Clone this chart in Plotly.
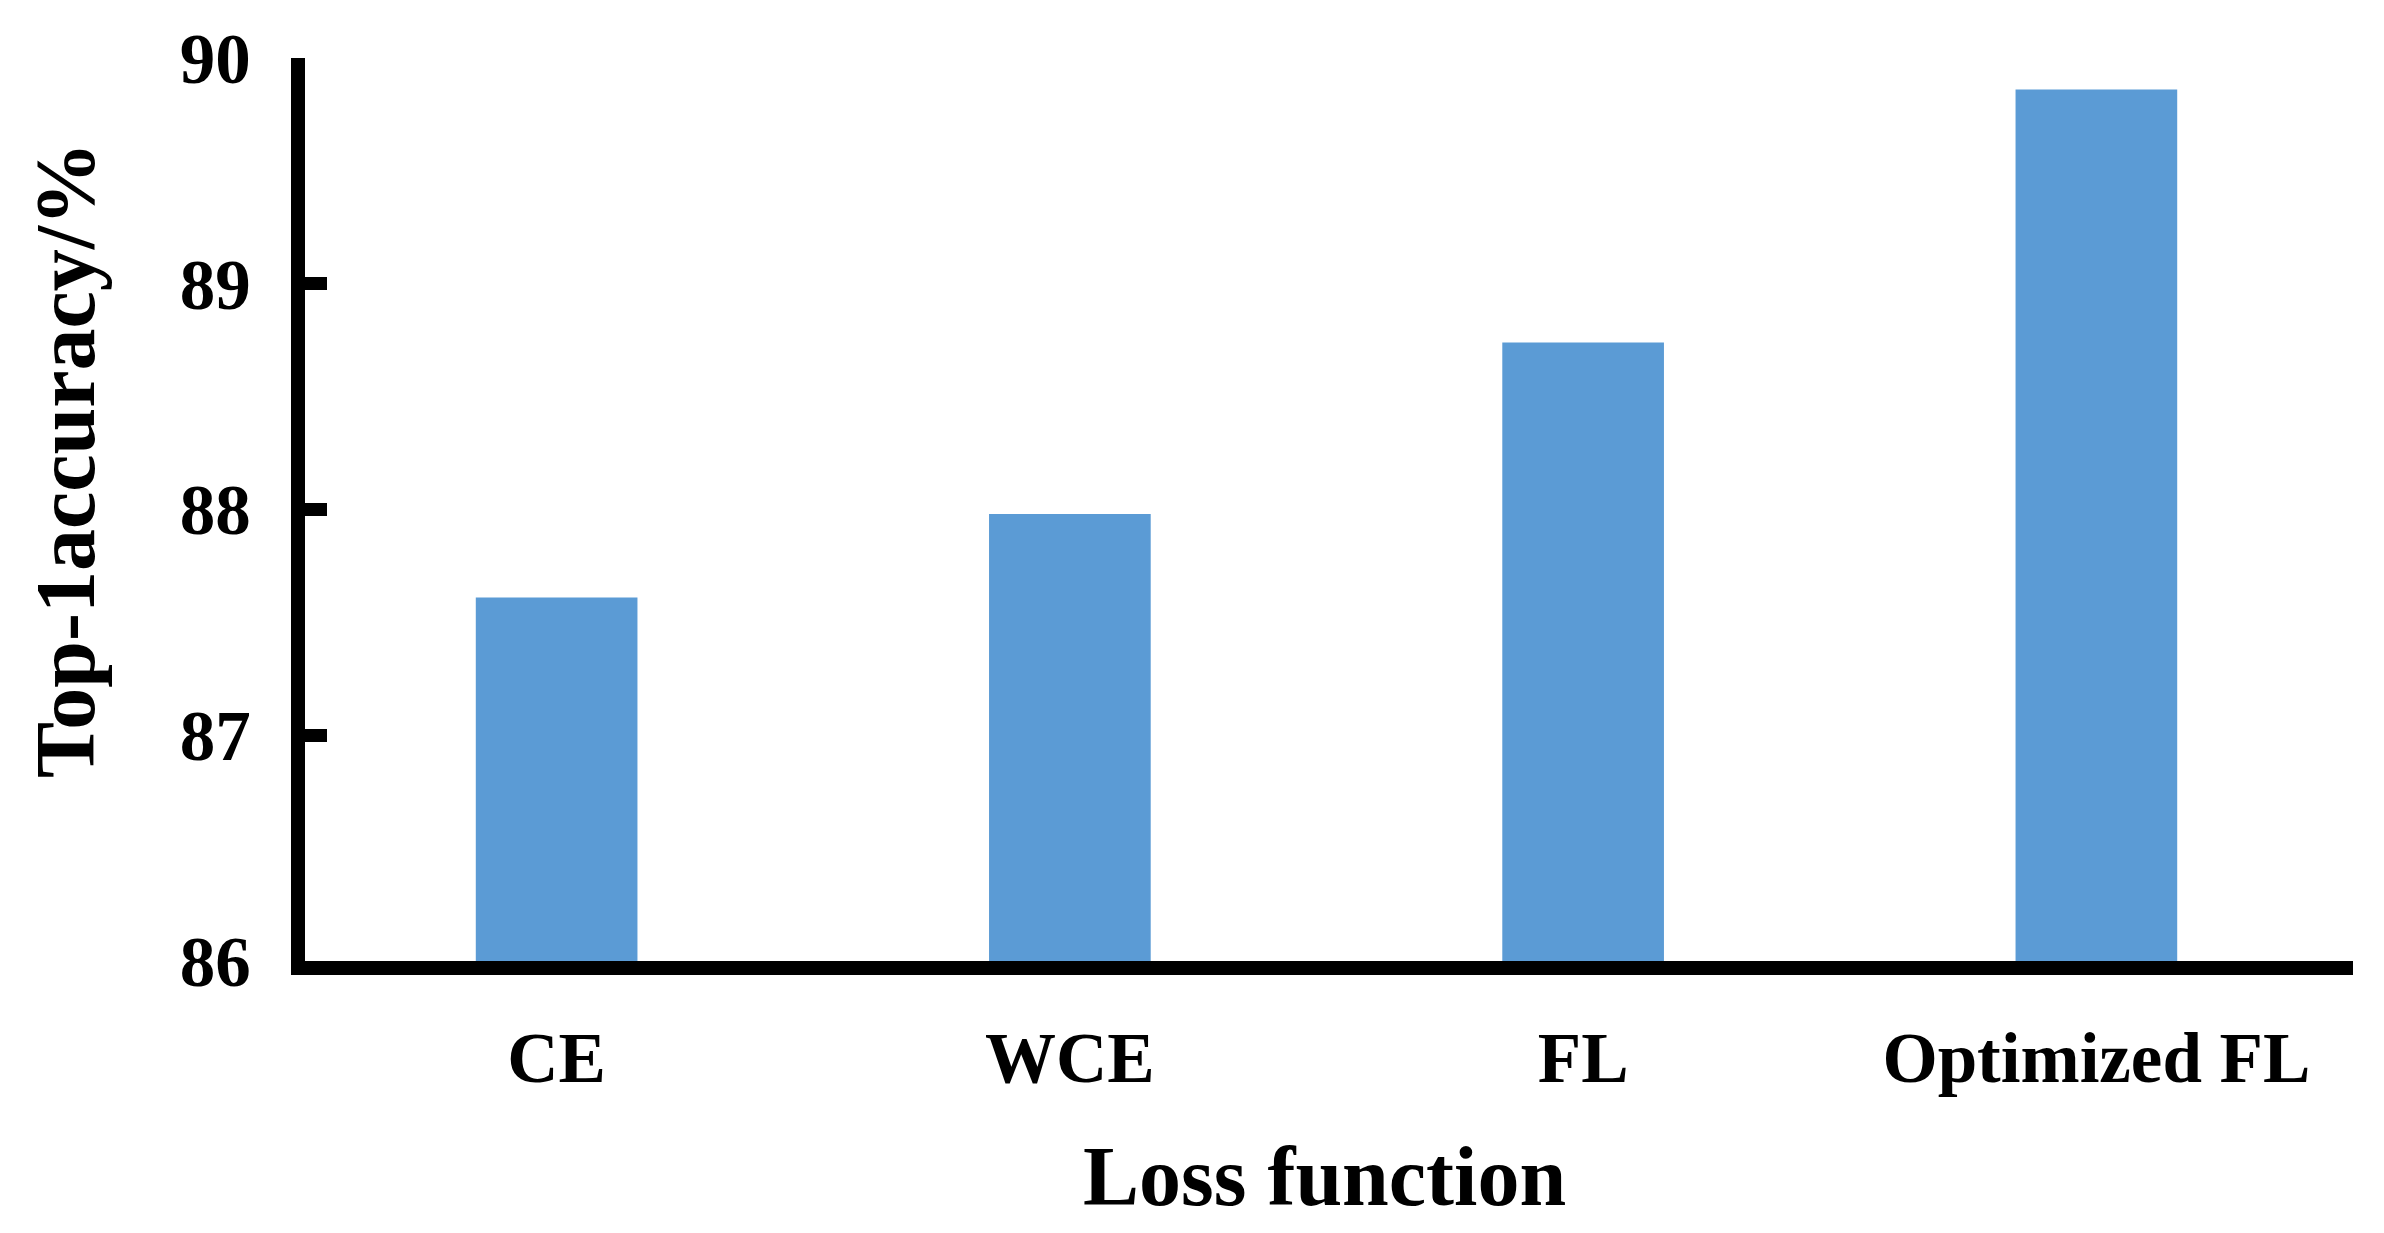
import plotly.graph_objects as go

# ---- data ----
categories = ["CE", "WCE", "FL", "Optimized FL"]
accuracy = [87.61, 87.98, 88.74, 89.86]
y_ticks = [86, 87, 88, 89, 90]
x_title = "Loss function"
y_title = "Top-1accuracy/%"

# ---- layout constants ----
W, H = 2384, 1233
OFF = 8  # page body margin
L, R, T, B = 305 - OFF, 39, 58 - OFF, 280
PW, PH = W - L - R, H - T - B
FONT = "Liberation Serif, Times New Roman, serif"


def px_x(x):
    return (x - OFF - L) / PW


def px_y(y):
    return (H - B - (y - OFF)) / PH


fig = go.Figure()
fig.add_trace(go.Bar(
    x=categories,
    y=accuracy,
    marker=dict(color="#5B9BD5", line=dict(width=0)),
))

fig.update_layout(
    width=W, height=H,
    margin=dict(l=L, r=R, t=T, b=B, pad=0),
    paper_bgcolor="white",
    plot_bgcolor="white",
    showlegend=False,
    bargap=0.685,
    font=dict(family=FONT, color="black", size=70, weight="bold"),
)

fig.update_xaxes(
    type="category",
    range=[-0.5 + 5 / 513, 3.5],
    showline=True, linecolor="black", linewidth=14,
    showgrid=False, zeroline=False,
    ticks="",
    tickfont=dict(family=FONT, size=71, color="black", weight="bold"),
    ticklabelstandoff=22,
)

fig.update_yaxes(
    range=[86, 90],
    tickvals=y_ticks,
    ticktext=[str(v) for v in y_ticks],
    showline=True, linecolor="black", linewidth=14,
    showgrid=False, zeroline=False,
    ticks="inside", ticklen=22, tickwidth=13, tickcolor="black",
    tickfont=dict(family=FONT, size=71, color="black", weight="bold"),
    ticklabelstandoff=26,
)

fig.add_annotation(
    text=x_title, xref="paper", yref="paper",
    x=px_x(1324), y=px_y(1176), xanchor="center", yanchor="middle",
    showarrow=False,
    font=dict(family=FONT, size=84, color="black", weight="bold"),
)
fig.add_annotation(
    text=y_title, xref="paper", yref="paper",
    x=px_x(65), y=px_y(460), xanchor="center", yanchor="middle",
    textangle=-90, showarrow=False,
    font=dict(family=FONT, size=84, color="black", weight="bold"),
)

fig.write_html("out.html")
